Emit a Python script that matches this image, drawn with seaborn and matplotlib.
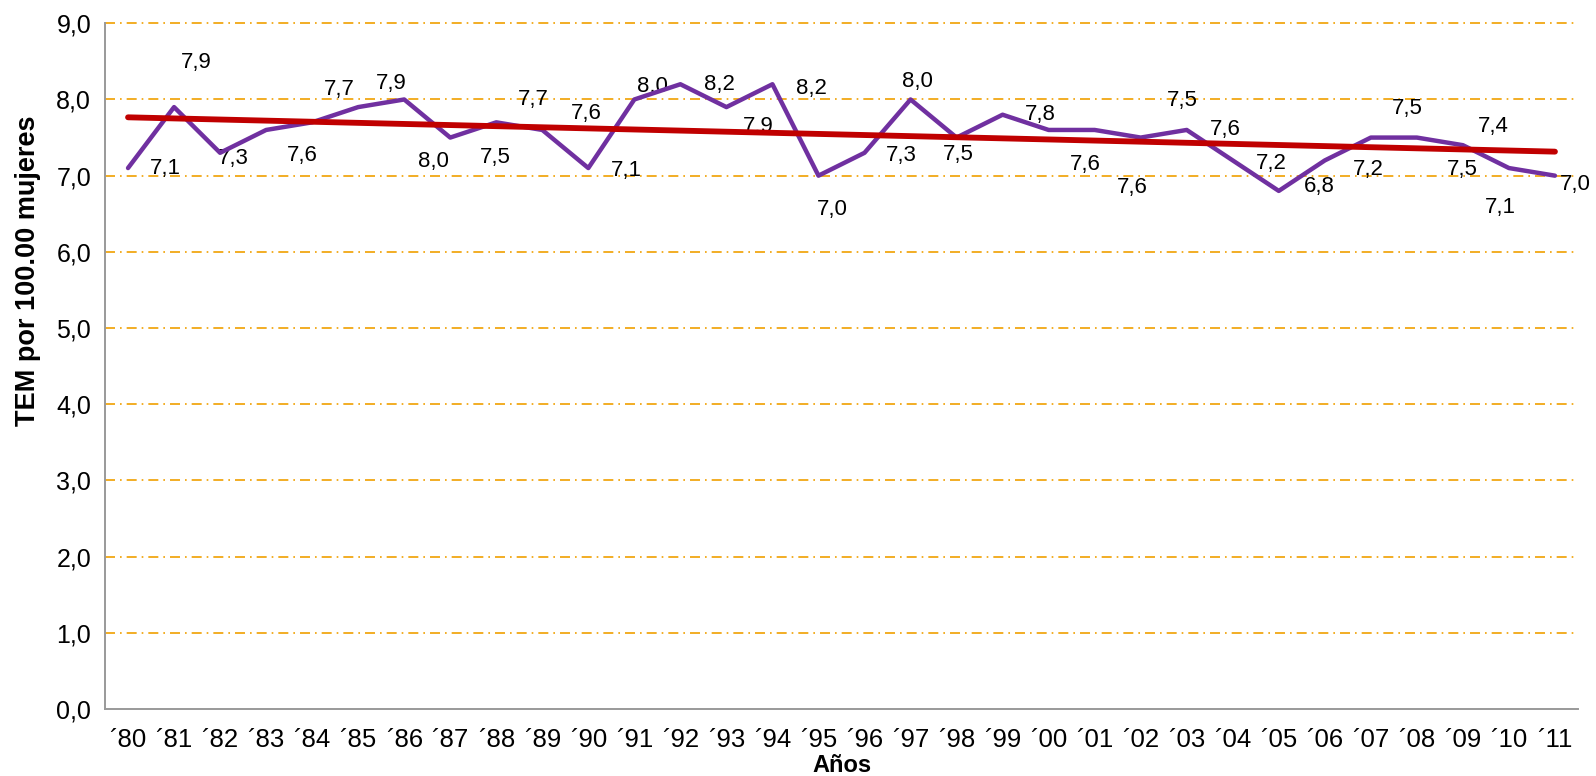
import numpy as np
import pandas as pd
import matplotlib
matplotlib.use("Agg")
import matplotlib.pyplot as plt
import seaborn as sns

# data
years = ["80", "81", "82", "83", "84", "85", "86", "87", "88", "89",
         "90", "91", "92", "93", "94", "95", "96", "97", "98", "99",
         "00", "01", "02", "03", "04", "05", "06", "07", "08", "09",
         "10", "11"]
tem = [7.1, 7.9, 7.3, 7.6, 7.7, 7.9, 8.0, 7.5, 7.7, 7.6,
       7.1, 8.0, 8.2, 7.9, 8.2, 7.0, 7.3, 8.0, 7.5, 7.8,
       7.6, 7.6, 7.5, 7.6, 7.2, 6.8, 7.2, 7.5, 7.5, 7.4,
       7.1, 7.0]
y_ticks = [0, 1, 2, 3, 4, 5, 6, 7, 8, 9]

# label offsets (pixels) as placed in the original chart
lab_dx = [37, 22, 13, 36, 27, 33, 29, 45, 37, 44,
          38, 18, 39, 32, 39, 14, 37, 7, 2, 38,
          37, 38, 42, 39, 39, 41, 44, 36, 45, 30,
          -9, 20]
lab_dy = [0, 45, -6, -26, 33, 24, -62, -20, 23, 16,
          -2, 13, 0, -19, -4, -34, -3, 18, -17, 0,
          -35, -58, 37, 0, -3, 4, -9, 29, -32, 19,
          -39, -9]

df = pd.DataFrame({"idx": np.arange(len(years)), "tem": tem})
slope, icpt = np.polyfit(df["idx"], df["tem"], 1)
df["trend"] = icpt + slope * df["idx"]

sns.set_style("white")
plt.rcParams["font.family"] = ["Liberation Sans", "DejaVu Sans"]
plt.rcParams["text.color"] = "black"
plt.rcParams["xtick.color"] = "black"
plt.rcParams["ytick.color"] = "black"
plt.rcParams["axes.labelcolor"] = "black"

fig = plt.figure(figsize=(15.96, 7.76), dpi=100)
ax = fig.add_axes([0.0658, 0.0863, 0.9229, 0.8837])

for v in y_ticks[1:]:
    ax.axhline(v, color="#F0A000", lw=1.2, ls=(0, (6, 3, 1, 3)), zorder=0, clip_on=False)

sns.lineplot(data=df, x="idx", y="tem", color="#7030A0", lw=3.2, ax=ax, zorder=3)
sns.lineplot(data=df, x="idx", y="trend", color="#C00000", lw=4.2, ax=ax, zorder=4)

for i, v in enumerate(tem):
    ax.annotate(f"{v:.1f}".replace(".", ","), (i, v),
                xytext=(lab_dx[i], lab_dy[i]), textcoords="offset pixels",
                ha="center", va="center", fontsize=16, color="black", zorder=2)

ax.set_xlim(-0.5, len(years) - 0.5)
ax.set_ylim(0, 9)
ax.set_yticks(y_ticks)
ax.set_yticklabels([f"{v:.1f}".replace(".", ",") for v in y_ticks], fontsize=18)
ax.set_xticks(range(len(years)))
ax.set_xticklabels(["\u00b4" + y for y in years], fontsize=18.5)
ax.set_xticks(np.arange(-0.5, len(years)), minor=True)
ax.tick_params(axis="x", which="major", length=0, pad=14)
ax.tick_params(axis="x", which="minor", length=8, color="#999999", width=1.3)
ax.tick_params(axis="y", length=8, color="#999999", width=1.3, pad=2)

for s in ["top", "right"]:
    ax.spines[s].set_visible(False)
for s in ["left", "bottom"]:
    ax.spines[s].set_color("#999999")
    ax.spines[s].set_linewidth(1.4)

ax.set_xlabel("Años", fontsize=17, fontweight="bold")
ax.xaxis.set_label_coords(0.5, -0.066)
ax.set_ylabel("TEM por 100.00 mujeres", fontsize=19.5, fontweight="bold")
ax.yaxis.set_label_coords(-0.0435, 0.639)

fig.savefig("out.png", dpi=100)
